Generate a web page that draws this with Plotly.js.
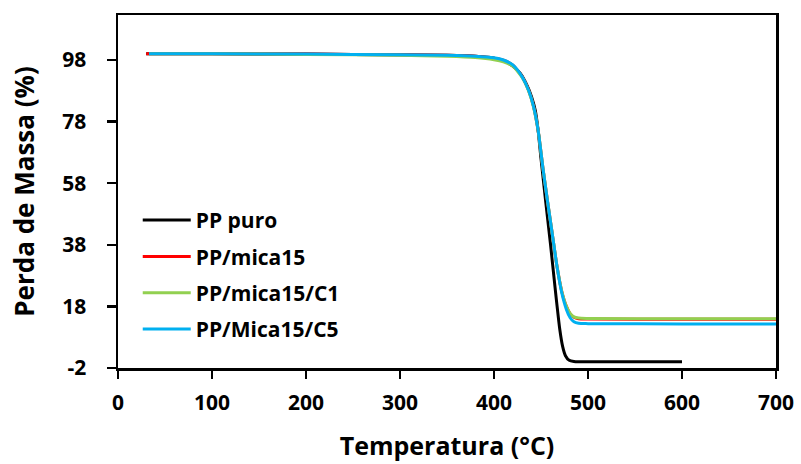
<!DOCTYPE html>
<html>
<head>
<meta charset="utf-8">
<script src="https://cdn.plot.ly/plotly-3.0.1.min.js"></script>
<style>html,body{margin:0;padding:0;background:#fff;}#chart{width:801px;height:464px;}</style>
</head>
<body>
<div id="chart"></div>
<script>
// Series names
const seriesNames = ["PP puro", "PP/mica15", "PP/mica15/C1", "PP/Mica15/C5"];

// PP puro
const tempPuro = [30, 100, 200, 300, 350, 380, 400, 410, 420, 428, 435, 440, 444, 447, 450, 455, 460, 465, 470, 473, 476, 480, 485, 490, 500, 550, 600];
const massPuro = [100, 100, 99.9, 99.7, 99.5, 99.2, 98.6, 97.8, 96, 93.6, 89.8, 86, 81.5, 75, 66, 52, 38.5, 24, 10.5, 5, 2, 0.5, 0.1, 0, 0, 0, 0];

// PP/mica15
const tempMica = [30, 100, 200, 300, 350, 380, 400, 410, 420, 430, 437, 442, 447, 452, 457, 462, 467, 472, 477, 481, 485, 490, 500, 600, 700];
const massMica = [100, 100, 99.9, 99.7, 99.5, 99.2, 98.6, 97.9, 96.3, 92.5, 88, 83, 75, 63, 52, 41.5, 31, 23, 18, 15.6, 14.5, 14, 13.9, 13.8, 13.8];

// PP/mica15/C1
const tempC1 = [33, 100, 200, 300, 350, 380, 400, 410, 420, 430, 437, 442, 447, 452, 457, 462, 467, 472, 477, 481, 485, 490, 500, 600, 700];
const massC1 = [100, 100, 99.8, 99.5, 99.2, 98.8, 98.1, 97.4, 96, 92.3, 87.8, 82.8, 75, 63, 52, 41.5, 31, 23, 18, 15.7, 14.6, 14.2, 14.1, 14, 14];

// PP/Mica15/C5
const tempC5 = [33, 100, 200, 300, 350, 380, 400, 410, 420, 430, 437, 442, 447, 452, 457, 462, 467, 472, 477, 481, 485, 490, 500, 600, 700];
const massC5 = [100, 100, 99.9, 99.7, 99.5, 99.2, 98.7, 98, 96.4, 92.5, 88, 83, 75, 63, 52, 41.5, 31, 22.5, 17, 14.3, 13, 12.5, 12.4, 12.3, 12.3];

// Axis ticks
const xTicks = [0, 100, 200, 300, 400, 500, 600, 700];
const yTicks = [-2, 18, 38, 58, 78, 98];

const colors = ["#000000", "#ff0000", "#92d050", "#00b0f0"];

const xs = [tempPuro, tempMica, tempC1, tempC5];
const ys = [massPuro, massMica, massC1, massC5];

const traces = seriesNames.map((name, i) => ({
  x: xs[i], y: ys[i], name: name, type: "scatter", mode: "lines",
  line: {color: colors[i], width: 3, shape: "spline", smoothing: 0.6},
  legendgroup: "g" + i
}));

const fontFam = "'Open Sans', 'DejaVu Sans', sans-serif";

const layout = {
  width: 801, height: 464,
  margin: {l: 118, r: 25, t: 15, b: 96},
  paper_bgcolor: "#fff", plot_bgcolor: "#fff",
  font: {family: fontFam, color: "#000", size: 16, weight: 700},
  showlegend: true,
  legend: {
    x: 0.03, y: 0.476, xanchor: "left", yanchor: "top",
    bgcolor: "rgba(0,0,0,0)", traceorder: "grouped", tracegroupgap: 6,
    itemwidth: 48,
    font: {family: fontFam, size: 21, weight: 700, color: "#000"}
  },
  xaxis: {
    range: [0, 700], tickvals: xTicks, ticktext: xTicks.map(String),
    showgrid: false, zeroline: false,
    showline: true, linecolor: "#000", linewidth: 2.5, mirror: true,
    ticks: "outside", ticklen: 8, tickwidth: 2.5, tickcolor: "#000",
    ticklabelstandoff: 6,
    tickfont: {family: fontFam, size: 21, weight: 700, color: "#000"},
    title: {text: "Temperatura (°C)", font: {family: fontFam, size: 25, weight: 700, color: "#000"}, standoff: 23},
    automargin: false
  },
  yaxis: {
    range: [-2, 112.6], tickvals: yTicks, ticktext: yTicks.map(String),
    showgrid: false, zeroline: false,
    showline: true, linecolor: "#000", linewidth: 2.5, mirror: true,
    ticks: "outside", ticklen: 9, tickwidth: 2.5, tickcolor: "#000",
    ticklabelstandoff: 16,
    tickfont: {family: fontFam, size: 21, weight: 700, color: "#000"},
    title: {text: "Perda de Massa (%)", font: {family: fontFam, size: 26, weight: 700, color: "#000"}, standoff: 20},
    automargin: false
  }
};

Plotly.newPlot("chart", traces, layout, {displayModeBar: false, staticPlot: true});
</script>
</body>
</html>
